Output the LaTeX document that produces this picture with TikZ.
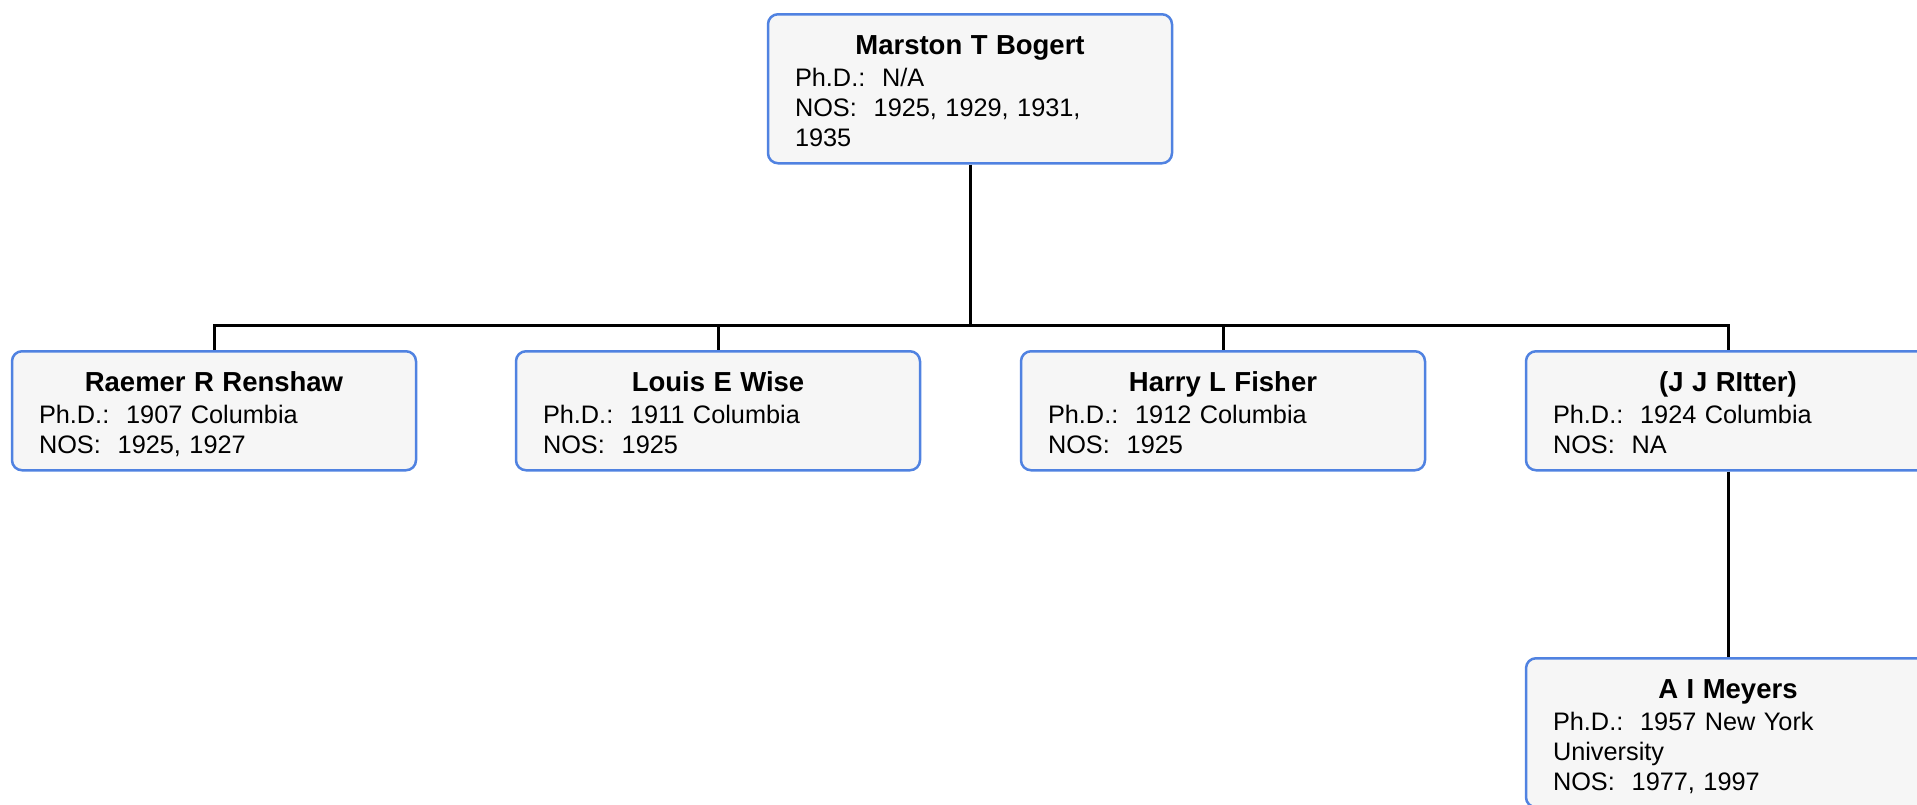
\documentclass[tikz,border=0pt]{standalone}
\usepackage{fontspec}
\setmainfont{Liberation Sans}
\definecolor{boxblue}{RGB}{80,130,225}
\definecolor{boxfill}{RGB}{246,246,246}
\newcommand{\pbox}[2]{{\centering\fontsize{27.5}{30}\selectfont\bfseries\rule{0pt}{40pt}#1\par}\vspace{2pt}#2\rule[-17pt]{0pt}{17pt}}
\tikzset{
  person/.style={draw=boxblue, fill=boxfill, line width=2.5pt, rounded corners=10pt,
    text width=350pt, inner xsep=27pt, inner ysep=0pt, align=left, anchor=north,
    font=\fontsize{25.3}{30}\selectfont},
  link/.style={draw=black, line width=3pt}
}
\begin{document}
\begin{tikzpicture}[x=1pt,y=-1pt]
\useasboundingbox (0,0) rectangle (1917,804);
\node[person] (mb) at (970,13) {\pbox{Marston T Bogert}{Ph.D.:\ \ N/A\\NOS:\ \ 1925, 1929, 1931,\\1935}};
\node[person] (rr) at (214,350) {\pbox{Raemer R Renshaw}{Ph.D.:\ \ 1907 Columbia\\NOS:\ \ 1925, 1927}};
\node[person] (lw) at (718,350) {\pbox{Louis E Wise}{Ph.D.:\ \ 1911 Columbia\\NOS:\ \ 1925}};
\node[person] (hf) at (1223,350) {\pbox{Harry L Fisher}{Ph.D.:\ \ 1912 Columbia\\NOS:\ \ 1925}};
\node[person] (jr) at (1728,350) {\pbox{(J J RItter)}{Ph.D.:\ \ 1924 Columbia\\NOS:\ \ NA}};
\node[person] (am) at (1728,657) {\pbox{A I Meyers}{Ph.D.:\ \ 1957 New York\\University\\NOS:\ \ 1977, 1997}};
\coordinate (bus) at (970,325);
\draw[link] (mb.south) -- (mb.south |- bus) -| (rr.north);
\draw[link] (mb.south |- bus) -| (lw.north);
\draw[link] (mb.south |- bus) -| (hf.north);
\draw[link] (mb.south |- bus) -| (jr.north);
\draw[link] (jr.south) -- (am.north);
\end{tikzpicture}
\end{document}
